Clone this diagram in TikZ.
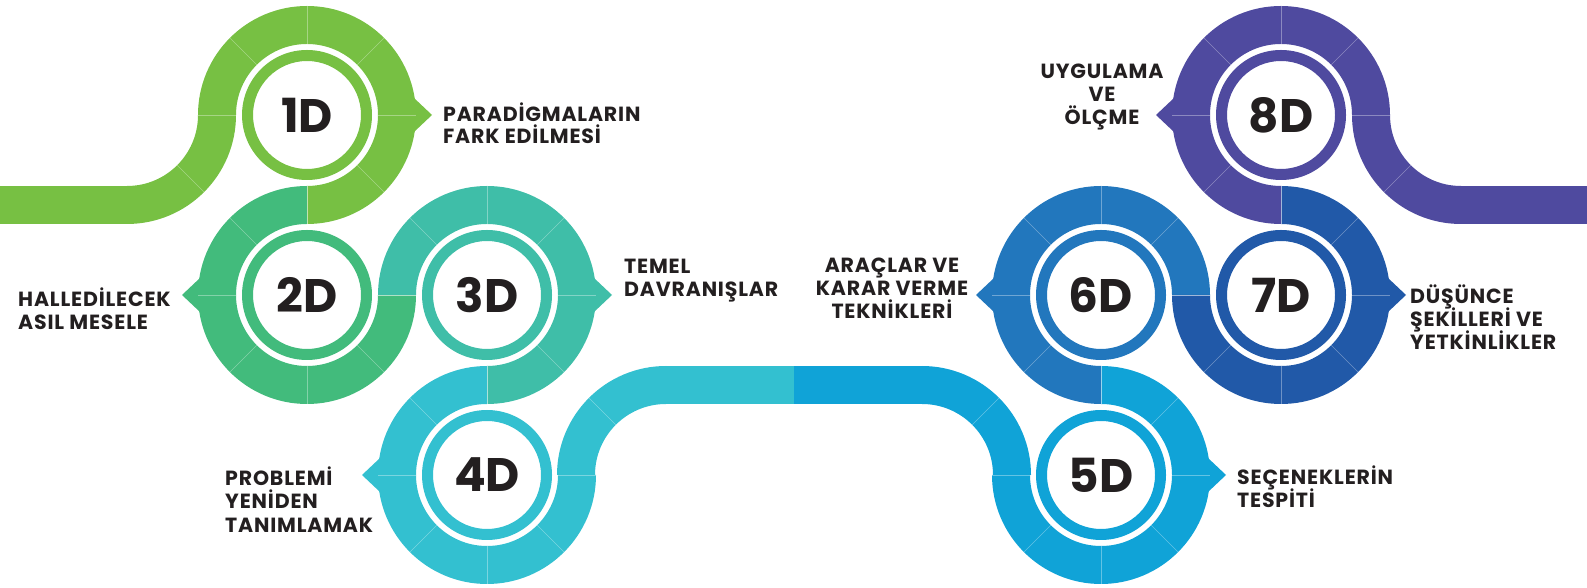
\documentclass[tikz,border=0pt]{standalone}
\usepackage{fontspec}
\setmainfont{Poppins}
\newfontfamily\lblfont{Poppins}[LetterSpace=4]
\usetikzlibrary{calc}
\definecolor{cA}{HTML}{77C043}
\definecolor{cB}{HTML}{42BB7C}
\definecolor{cC}{HTML}{3FBEA8}
\definecolor{cD}{HTML}{33C0D0}
\definecolor{cE}{HTML}{10A3D7}
\definecolor{cF}{HTML}{2277BD}
\definecolor{cG}{HTML}{2159A8}
\definecolor{cH}{HTML}{4F4A9F}
\definecolor{ink}{HTML}{231F20}
\newcommand\bandseg[5]{\fill[#5] ($(#1,#2)+(#3:109pt)$) arc[start angle=#3,end angle=#4,radius=109pt] -- ($(#1,#2)+(#4:71pt)$) arc[start angle=#4,end angle=#3,radius=71pt] -- cycle;}
\newcommand\seamset[4]{\pgfmathsetmacro\slo{min(#3,#4)}\pgfmathsetmacro\shi{max(#3,#4)}\pgfmathsetmacro\snx{\slo+45}%
  \foreach \a in {\slo,\snx,...,\shi}{\draw[seam] ($(#1,#2)+(\a:71pt)$) -- ($(#1,#2)+(\a:109pt)$);}}
\newcommand\seamone[3]{\draw[seam] ($(#1,#2)+(#3:71pt)$) -- ($(#1,#2)+(#3:109pt)$);}
\newcommand\notchat[4]{\fill[#4] ($(#1,#2)+(#3:100pt)+(#3+90:17.5pt)$) -- ($(#1,#2)+(#3:107pt)+(#3+90:17pt)$) -- ($(#1,#2)+(#3:125pt)$) -- ($(#1,#2)+(#3:107pt)+(#3-90:17pt)$) -- ($(#1,#2)+(#3:100pt)+(#3-90:17.5pt)$) -- cycle;}
\newcommand\innerring[3]{\fill[#3,even odd rule] (#1,#2) circle[radius=65pt] (#1,#2) circle[radius=54pt];}
\tikzset{
  seam/.style={draw=white,draw opacity=0.35,line width=0.6pt},
  numtext/.style={font=\fontsize{47}{47}\selectfont\bfseries,text=ink,inner sep=0pt},
  lbl/.style={font=\lblfont\fontsize{20.5}{23}\selectfont\bfseries,text=ink,inner sep=0pt},
}
\begin{document}
\begin{tikzpicture}[x=1pt,y=1pt]
\useasboundingbox (0,0) rectangle (1587,588);
% bars
\fill[cA] (0,364) rectangle (127.5,402);
\fill[cD] (665.5,184) rectangle (794,222);
\fill[cE] (794,184) rectangle (922.5,222);
\fill[cH] (1460.5,364) rectangle (1587,402);
% S-curves
\bandseg{127}{473}{270}{360}{cA}
\bandseg{666}{113}{180}{90}{cD}
\bandseg{922}{113}{90}{0}{cE}
\bandseg{1461}{473}{180}{270}{cH}
% rings
\bandseg{307}{473}{180}{-90}{cA}
\bandseg{307}{293}{90}{360}{cB}
\bandseg{487}{293}{180}{-90}{cC}
\bandseg{487}{113}{90}{360}{cD}
\bandseg{1101}{113}{180}{450}{cE}
\bandseg{1101}{293}{270}{0}{cF}
\bandseg{1281}{293}{180}{450}{cG}
\bandseg{1281}{473}{270}{0}{cH}
% notches
\notchat{307}{473}{0}{cA}
\notchat{307}{293}{180}{cB}
\notchat{487}{293}{0}{cC}
\notchat{487}{113}{180}{cD}
\notchat{1101}{113}{0}{cE}
\notchat{1101}{293}{180}{cF}
\notchat{1281}{293}{0}{cG}
\notchat{1281}{473}{180}{cH}
% seams
\seamone{127}{473}{315}
\seamone{666}{113}{135}
\seamone{922}{113}{45}
\seamone{1461}{473}{225}
\seamset{307}{473}{180}{-90}
\seamset{307}{293}{90}{360}
\seamset{487}{293}{180}{-90}
\seamset{487}{113}{90}{360}
\seamset{1101}{113}{180}{450}
\seamset{1101}{293}{270}{0}
\seamset{1281}{293}{180}{450}
\seamset{1281}{473}{270}{0}
% inner rings
\innerring{307}{473}{cA}
\innerring{307}{293}{cB}
\innerring{487}{293}{cC}
\innerring{487}{113}{cD}
\innerring{1101}{113}{cE}
\innerring{1101}{293}{cF}
\innerring{1281}{293}{cG}
\innerring{1281}{473}{cH}
% numbers
\node[numtext] (n1) at (307,473) {1D};
\node[numtext] (n2) at (307,293) {2D};
\node[numtext] (n3) at (487,293) {3D};
\node[numtext] (n4) at (487,113) {4D};
\node[numtext] (n5) at (1101,113) {5D};
\node[numtext] (n6) at (1101,293) {6D};
\node[numtext] (n7) at (1281,293) {7D};
\node[numtext] (n8) at (1281,473) {8D};
% labels
\node[lbl,anchor=base west] (l1a) at (443,466) {PARADİGMALARIN};
\node[lbl,anchor=base west] (l1b) at (443,444) {FARK EDİLMESİ};
\node[lbl,anchor=base west] (l2a) at (18,281) {HALLEDİLECEK};
\node[lbl,anchor=base west] (l2b) at (18,258) {ASIL MESELE};
\node[lbl,anchor=base west] (l3a) at (624,314) {TEMEL};
\node[lbl,anchor=base west] (l3b) at (624,291) {DAVRANIŞLAR};
\node[lbl,anchor=base west] (l4a) at (225,102.5) {PROBLEMİ};
\node[lbl,anchor=base west] (l4b) at (225,79) {YENİDEN};
\node[lbl,anchor=base west] (l4c) at (225,55.5) {TANIMLAMAK};
\node[lbl,anchor=base west] (l5a) at (1237,103) {SEÇENEKLERİN};
\node[lbl,anchor=base west] (l5b) at (1237,80) {TESPİTİ};
\node[lbl,anchor=base] (l6a) at (892,315.5) {ARAÇLAR VE};
\node[lbl,anchor=base] (l6b) at (892,292.5) {KARAR VERME};
\node[lbl,anchor=base] (l6c) at (892,269.5) {TEKNİKLERİ};
\node[lbl,anchor=base west] (l7a) at (1410,284) {DÜŞÜNCE};
\node[lbl,anchor=base west] (l7b) at (1410,261) {ŞEKİLLERİ VE};
\node[lbl,anchor=base west] (l7c) at (1410,238) {YETKİNLİKLER};
\node[lbl,anchor=base] (l8a) at (1102,509) {UYGULAMA};
\node[lbl,anchor=base] (l8b) at (1102,486) {VE};
\node[lbl,anchor=base] (l8c) at (1102,463) {ÖLÇME};
\end{tikzpicture}
\end{document}
